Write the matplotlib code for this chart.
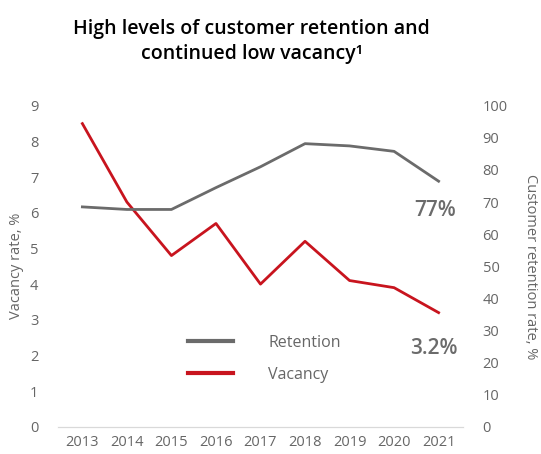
import matplotlib.pyplot as plt

years = ['2013', '2014', '2015', '2016', '2017', '2018', '2019', '2020', '2021']
vacancy = [8.5, 6.3, 4.8, 5.7, 4.0, 5.2, 4.1, 3.9, 3.2]
retention = [68.5, 67.7, 67.7, 74.5, 81, 88.2, 87.5, 85.8, 76.5]

grey = '#6b6b6b'
red = '#c8141e'
txt = '#666666'

plt.rcParams['font.family'] = ['Open Sans', 'DejaVu Sans']

fig = plt.figure(figsize=(5.41, 4.54), dpi=100)
ax = fig.add_axes([0.107, 0.06, 0.749, 0.707])
ax2 = ax.twinx()

x = range(len(years))
ax2.plot(x, retention, color=grey, lw=2, label='Retention')
ax.plot(x, vacancy, color=red, lw=2, label='Vacancy')

ax.set_ylim(0, 9)
ax2.set_ylim(0, 100)
ax.set_xlim(-0.55, 8.55)
ax.set_yticks(range(0, 10))
ax2.set_yticks(range(0, 101, 10))
ax.set_xticks(list(x))
ax.set_xticklabels(years)

for a in (ax, ax2):
    for s in ('top', 'left', 'right'):
        a.spines[s].set_visible(False)
    a.spines['bottom'].set_color('#d9d9d9')
    a.tick_params(length=0, labelsize=10.5, colors=txt)
ax.tick_params(axis='y', pad=14)
ax2.tick_params(axis='y', pad=14)
ax.tick_params(axis='x', pad=6)

ax.set_ylabel('Vacancy rate, %', color=txt, fontsize=10.5, labelpad=4)
ax2.set_ylabel('Customer retention rate, %', color=txt, fontsize=10.5,
               rotation=-90, labelpad=22)

ax2.text(8.38, retention[-1] - 9, '77%', color=grey, fontsize=15,
         fontweight='semibold', ha='right', va='center')
ax.text(8.42, vacancy[-1] - 1.0, '3.2%', color=grey, fontsize=15,
        fontweight='semibold', ha='right', va='center')

h1, l1 = ax2.get_legend_handles_labels()
h2, l2 = ax.get_legend_handles_labels()
leg = ax.legend(h1 + h2, l1 + l2, loc='center', bbox_to_anchor=(0.51, 0.212),
                frameon=False, fontsize=11.5, handlelength=2.8, handletextpad=2.2,
                labelspacing=1.0, labelcolor=txt)
for ln in leg.get_lines():
    ln.set_linewidth(3)

fig.suptitle('High levels of customer retention and\ncontinued low vacancy\u00b9',
             fontsize=14, fontweight='semibold', y=0.958, x=0.465, linespacing=1.35)

fig.savefig('out.png', dpi=100)
